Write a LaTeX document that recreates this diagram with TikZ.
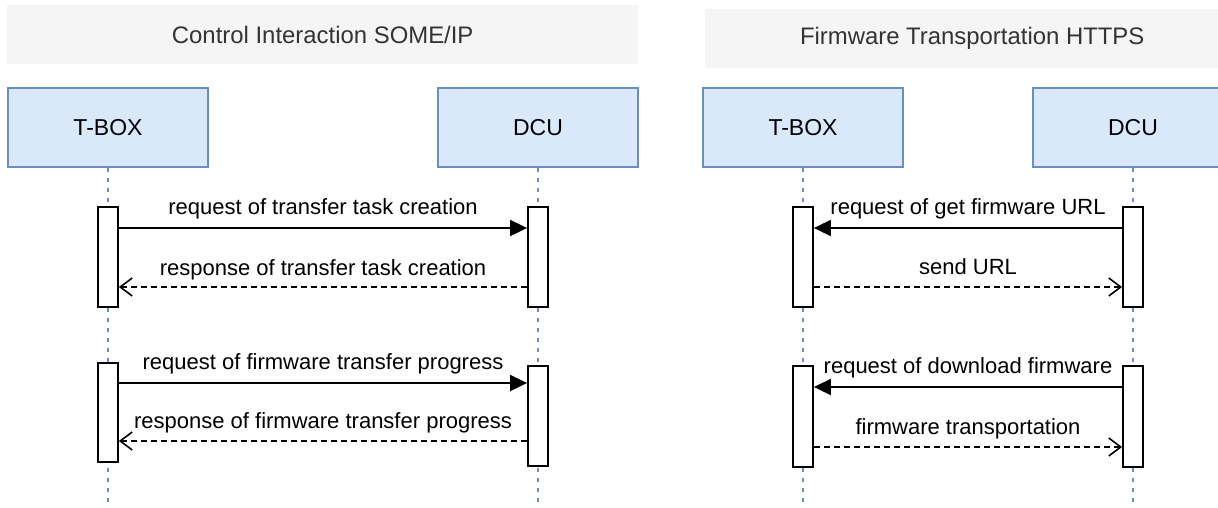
\documentclass[tikz,border=0pt]{standalone}
\usepackage{fontspec}
\setmainfont{Liberation Sans}
\usetikzlibrary{arrows.meta,calc}

\definecolor{actorfill}{HTML}{DAE8FC}
\definecolor{actorline}{HTML}{6C8EBF}
\definecolor{headfill}{HTML}{F5F5F5}
\definecolor{headtext}{HTML}{333333}

\begin{document}
\begin{tikzpicture}[x=1pt,y=-1pt,
  header/.style={fill=headfill, text=headtext, inner sep=0pt, anchor=north west,
    font=\fontsize{23.9}{28}\selectfont},
  actor/.style={draw=actorline, fill=actorfill, line width=1.6pt, inner sep=0pt,
    minimum width=200pt, minimum height=79pt, font=\fontsize{23}{27}\selectfont},
  lifeline/.style={draw=actorline, line width=1.4pt, dash pattern=on 4pt off 6pt},
  bar/.style={draw=black, fill=white, line width=1.8pt, inner sep=0pt, minimum width=20pt},
  call/.style={draw=black, line width=1.8pt, -{Triangle[length=17pt,width=16pt]}},
  reply/.style={draw=black, line width=1.6pt, dash pattern=on 6pt off 4pt,
    -{Straight Barb[length=12pt,width=18pt,line width=1.6pt]}},
  lbl/.style={inner sep=0pt, text height=0.75em, text depth=0.2em,
    font=\fontsize{22}{26}\selectfont}
]
\useasboundingbox (0,0) rectangle (1218,507);
\clip (0,0) rectangle (1218,507);

% section headers
\node[header, minimum width=631pt, minimum height=59pt] (hdrL) at (7,5) {Control Interaction SOME/IP};
\node[header, minimum width=534pt, minimum height=59pt] (hdrR) at (705,9) {Firmware Transportation HTTPS};

% participants
\node[actor] (tboxL) at (108,127.5) {T-BOX};
\node[actor] (dcuL)  at (538,127.5) {DCU};
\node[actor] (tboxR) at (803,127.5) {T-BOX};
\node[actor] (dcuR)  at (1133,127.5) {DCU};

% lifelines
\coordinate (bottom) at (0,507);
\foreach \p in {tboxL,dcuL,tboxR,dcuR}
  \draw[lifeline] (\p.south) -- (\p.south |- bottom);

% activation bars
\node[bar, minimum height=100pt] (tbA1) at (108,257) {};
\node[bar, minimum height=100pt] (dcA1) at (538,257) {};
\node[bar, minimum height=99pt]  (tbA2) at (108,412.5) {};
\node[bar, minimum height=100pt] (dcA2) at (538,416) {};
\node[bar, minimum height=100pt] (tbB1) at (803,257) {};
\node[bar, minimum height=100pt] (dcB1) at (1133,257) {};
\node[bar, minimum height=101pt] (tbB2) at (803,416.5) {};
\node[bar, minimum height=101pt] (dcB2) at (1133,416.5) {};

% message levels
\coordinate (y1) at (0,228);
\coordinate (y2) at (0,287);
\coordinate (y3) at (0,383);
\coordinate (y4) at (0,441);
\coordinate (y5) at (0,387);
\coordinate (y6) at (0,447);

% SOME/IP control messages
\draw[call]  (tbA1.east |- y1) -- node[lbl, yshift=16pt] {request of transfer task creation} (dcA1.west |- y1);
\draw[reply] (dcA1.west |- y2) -- node[lbl, yshift=14pt] {response of transfer task creation} (tbA1.east |- y2);
\draw[call]  (tbA2.east |- y3) -- node[lbl, yshift=16pt] {request of firmware transfer progress} (dcA2.west |- y3);
\draw[reply] (dcA2.west |- y4) -- node[lbl, yshift=15pt] {response of firmware transfer progress} (tbA2.east |- y4);

% HTTPS firmware messages
\draw[call]  (dcB1.west |- y1) -- node[lbl, yshift=16pt] {request of get firmware URL} (tbB1.east |- y1);
\draw[reply] (tbB1.east |- y2) -- node[lbl, yshift=15pt] {send URL} (dcB1.west |- y2);
\draw[call]  (dcB2.west |- y5) -- node[lbl, yshift=16pt] {request of download firmware} (tbB2.east |- y5);
\draw[reply] (tbB2.east |- y6) -- node[lbl, yshift=15pt] {firmware transportation} (dcB2.west |- y6);
\end{tikzpicture}
\end{document}
